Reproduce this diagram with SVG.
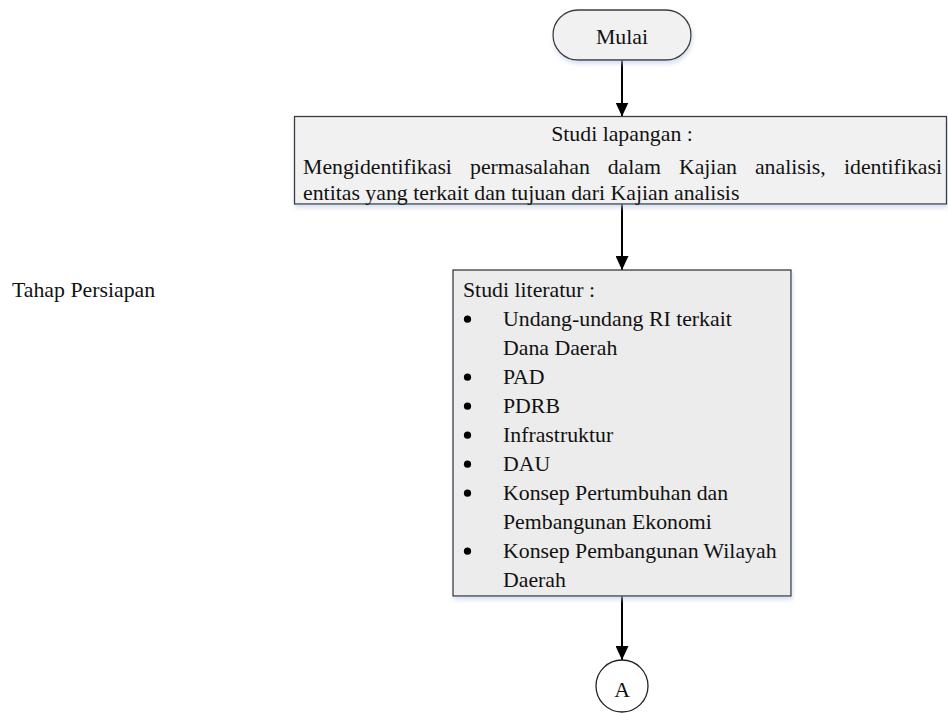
<svg xmlns="http://www.w3.org/2000/svg" width="948" height="713" viewBox="0 0 948 713">
  <defs>
    <filter id="soft" x="-5%" y="-10%" width="110%" height="130%">
      <feDropShadow dx="1" dy="3" stdDeviation="2" flood-color="#b9cbe4" flood-opacity="0.6"/>
    </filter>
    <marker id="arrow" viewBox="0 0 14 13" refX="14" refY="6.5" markerWidth="14" markerHeight="13" markerUnits="userSpaceOnUse" orient="auto">
      <path d="M0,0 L14,6.5 L0,13 Z" fill="#000"/>
    </marker>
  </defs>
  <style>
    text { font-family: "Liberation Serif", "Times New Roman", serif; font-size: 21.8px; fill: #111; }
    .box { stroke: #3a3a3a; stroke-width: 1.3; filter: url(#soft); }
    .light { fill: #f1f1f1; }
    .grey { fill: #ececec; }
    .edge { stroke: #000; stroke-width: 2; fill: none; }
    .mid { text-anchor: middle; }
    .end { text-anchor: end; }
  </style>
  <rect width="948" height="713" fill="#fff"/>

  <text x="12" y="297">Tahap Persiapan</text>

  <g id="connectors">
    <line class="edge" x1="622" y1="60" x2="622" y2="116.5" marker-end="url(#arrow)"/>
    <line class="edge" x1="622" y1="204" x2="622" y2="270" marker-end="url(#arrow)"/>
    <line class="edge" x1="622" y1="596" x2="622" y2="660" marker-end="url(#arrow)"/>
  </g>

  <g id="mulai">
    <rect class="box light" x="553" y="10" width="138" height="50" rx="25" ry="25"/>
    <text class="mid" x="622" y="43.5">Mulai</text>
  </g>

  <g id="studi-lapangan">
    <rect class="box light" x="294.5" y="116.5" width="652" height="87.5"/>
    <text class="mid" x="622" y="140.5">Studi lapangan :</text>
    <text x="303" y="173.5">Mengidentifikasi</text>
    <text x="470" y="173.5">permasalahan</text>
    <text x="607.7" y="173.5">dalam</text>
    <text x="678.9" y="173.5">Kajian</text>
    <text x="754.9" y="173.5">analisis,</text>
    <text class="end" x="942" y="173.5">identifikasi</text>
    <text x="303" y="199.5">entitas yang terkait dan tujuan dari Kajian analisis</text>
  </g>

  <g id="studi-literatur">
    <rect class="box grey" x="453" y="270" width="338" height="326"/>
    <text x="463" y="296.7">Studi literatur :</text>
    <g fill="#000">
      <circle cx="467.5" cy="319.2" r="3.6"/>
      <circle cx="467.5" cy="377.2" r="3.6"/>
      <circle cx="467.5" cy="406.2" r="3.6"/>
      <circle cx="467.5" cy="435.2" r="3.6"/>
      <circle cx="467.5" cy="464.2" r="3.6"/>
      <circle cx="467.5" cy="493.2" r="3.6"/>
      <circle cx="467.5" cy="551.2" r="3.6"/>
    </g>
    <text x="503" y="325.7">Undang-undang RI terkait</text>
    <text x="503" y="354.7">Dana Daerah</text>
    <text x="503" y="383.7">PAD</text>
    <text x="503" y="412.7">PDRB</text>
    <text x="503" y="441.7">Infrastruktur</text>
    <text x="503" y="470.7">DAU</text>
    <text x="503" y="499.7">Konsep Pertumbuhan dan</text>
    <text x="503" y="528.7">Pembangunan Ekonomi</text>
    <text x="503" y="557.7">Konsep Pembangunan Wilayah</text>
    <text x="503" y="586.7">Daerah</text>
  </g>

  <g id="konektor-a">
    <circle cx="622" cy="686" r="26" fill="#fff" stroke="#222" stroke-width="1.3"/>
    <text class="mid" x="622" y="696.7">A</text>
  </g>
</svg>
